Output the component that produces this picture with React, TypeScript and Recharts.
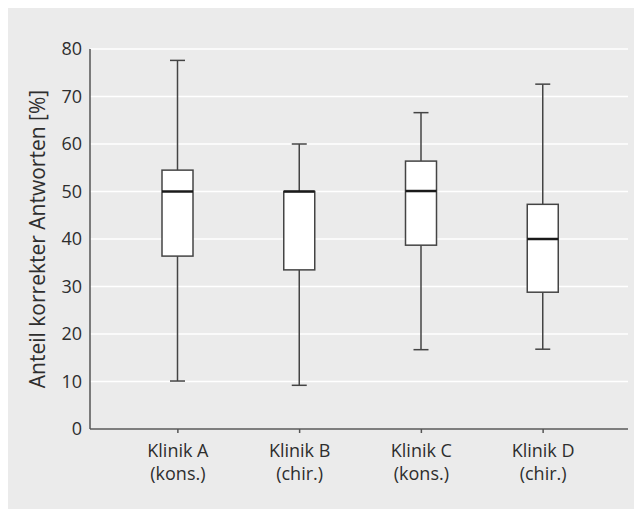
import React from "react";
import { ComposedChart, Bar, XAxis, YAxis, CartesianGrid } from "recharts";

const categories = ["Klinik A", "Klinik B", "Klinik C", "Klinik D"];
const subLabels = ["(kons.)", "(chir.)", "(kons.)", "(chir.)"];
const minValues = [10.1, 9.2, 16.7, 16.8];
const q1Values = [36.4, 33.5, 38.7, 28.8];
const medianValues = [50, 50, 50.1, 40];
const q3Values = [54.5, 50, 56.4, 47.3];
const maxValues = [77.6, 60, 66.6, 72.6];
const yTicks = [0, 10, 20, 30, 40, 50, 60, 70, 80];

const data = categories.map((c, i) => ({
  name: c,
  sub: subLabels[i],
  min: minValues[i],
  q1: q1Values[i],
  median: medianValues[i],
  q3: q3Values[i],
  max: maxValues[i],
}));

const FONT = "'Open Sans', sans-serif";
const TEXT = "#2e2e2e";

const BoxShape = (props: any) => {
  const { x, y, width, height, payload } = props;
  const k = height / (payload.q3 - payload.q1);
  const cx = x + width / 2;
  const yOf = (v: number) => y + (payload.q3 - v) * k;
  const capHalf = 7.5;
  const stroke = "#444444";
  return (
    <g>
      <line x1={cx} x2={cx} y1={yOf(payload.max)} y2={yOf(payload.q3)} stroke={stroke} strokeWidth={1.5} />
      <line x1={cx} x2={cx} y1={yOf(payload.q1)} y2={yOf(payload.min)} stroke={stroke} strokeWidth={1.5} />
      <line x1={cx - capHalf} x2={cx + capHalf} y1={yOf(payload.max)} y2={yOf(payload.max)} stroke={stroke} strokeWidth={1.5} />
      <line x1={cx - capHalf} x2={cx + capHalf} y1={yOf(payload.min)} y2={yOf(payload.min)} stroke={stroke} strokeWidth={1.5} />
      <rect x={x} y={y} width={width} height={height} fill="#ffffff" stroke={stroke} strokeWidth={1.5} />
      <line x1={x} x2={x + width} y1={yOf(payload.median)} y2={yOf(payload.median)} stroke="#1a1a1a" strokeWidth={2.5} />
    </g>
  );
};

const XTick = (props: any) => {
  const { x, y, payload, index } = props;
  return (
    <text x={x} y={y} textAnchor="middle" fill={TEXT} fontSize={18} fontFamily={FONT}>
      <tspan x={x} dy={22}>{payload.value}</tspan>
      <tspan x={x} dy={23}>{subLabels[index]}</tspan>
    </text>
  );
};

export default function App() {
  return (
    <div style={{ marginLeft: -2, width: 636, height: 501, background: "#ebebeb" }}>
      <ComposedChart
        width={636}
        height={501}
        data={data}
        margin={{ top: 41, right: 14, bottom: 0, left: 0 }}
        style={{ fontFamily: FONT }}
      >
        <CartesianGrid horizontal vertical={false} stroke="#ffffff" strokeWidth={1.5} />
        <XAxis
          dataKey="name"
          type="category"
          padding={{ left: 27, right: 24 }}
          height={80}
          axisLine={{ stroke: "#555555", strokeWidth: 1.5 }}
          tickLine={{ stroke: "#555555", strokeWidth: 1.5 }}
          tickSize={4}
          tick={<XTick />}
          interval={0}
        />
        <YAxis
          type="number"
          domain={[0, 80]}
          ticks={yTicks}
          width={84}
          axisLine={{ stroke: "#555555", strokeWidth: 1.5 }}
          tickLine={false}
          tick={{ fill: TEXT, fontSize: 18, fontFamily: FONT }}
          label={{
            value: "Anteil korrekter Antworten [%]",
            angle: -90,
            position: "center",
            dx: -10,
            fill: TEXT,
            fontSize: 21,
            fontFamily: FONT,
          }}
        />
        <Bar
          dataKey={(d: any) => [d.q1, d.q3]}
          barSize={31}
          shape={<BoxShape />}
          isAnimationActive={false}
        />
      </ComposedChart>
    </div>
  );
}
